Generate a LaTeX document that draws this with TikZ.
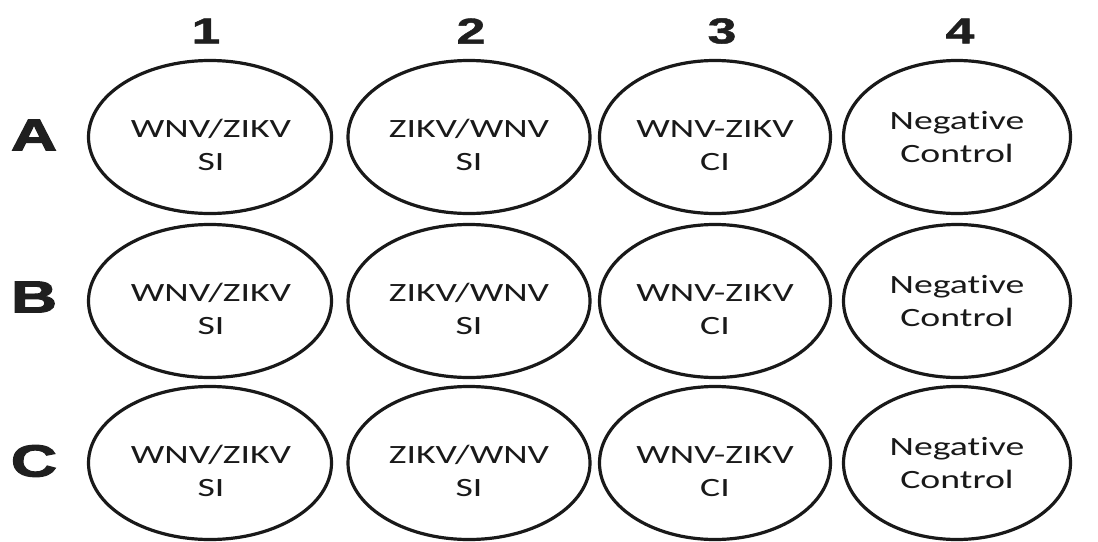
\documentclass[tikz,border=0pt]{standalone}
\usepackage{fontspec}
\usepackage{graphicx}
\setmainfont{Carlito}[Ligatures={NoCommon,NoRare}]
\newfontfamily\headfont{Liberation Sans Bold}[FakeBold=1.2]
\newfontfamily\letterfont{Liberation Sans Bold}[FakeBold=2.2]
\usetikzlibrary{shapes.geometric,calc}
% horizontally widened text block
\newcommand{\widetext}[1]{\scalebox{1.43}[1]{\begin{tabular}{@{}c@{}}#1\end{tabular}}}
\tikzset{
  well/.style={ellipse, draw=black!90, line width=3.2pt, inner sep=0pt},
  welltext/.style={inner sep=0pt, font=\fontsize{26.4}{33}\selectfont, text=black!90},
  colhead/.style={inner sep=0pt, font=\headfont\fontsize{36}{36}\selectfont, text=black!88},
  rowhead/.style={inner sep=0pt, font=\letterfont\fontsize{45}{45}\selectfont, text=black!88}
}
\begin{document}
\begin{tikzpicture}[x=1pt,y=-1pt]
\useasboundingbox (0,0) rectangle (1098,541);

% column numbers
\node[colhead] (c1) at (206,31) {\scalebox{1.43}[1]{1}};
\node[colhead] (c2) at (471,31) {\scalebox{1.43}[1]{2}};
\node[colhead] (c3) at (722,31) {\scalebox{1.43}[1]{3}};
\node[colhead] (c4) at (960,31) {\scalebox{1.43}[1]{4}};

% row letters
\node[rowhead] (rA) at (34,135) {\scalebox{1.42}[1]{A}};
\node[rowhead] (rB) at (34,297) {\scalebox{1.42}[1]{B}};
\node[rowhead] (rC) at (34,461) {\scalebox{1.42}[1]{C}};

% wells
\foreach \r/\y in {A/137,B/301,C/463}{
  \node[well, minimum width=243, minimum height=153] (\r1) at (210,\y) {};
  \node[well, minimum width=242, minimum height=153] (\r2) at (469,\y) {};
  \node[well, minimum width=231, minimum height=153] (\r3) at (715,\y) {};
  \node[well, minimum width=227, minimum height=153] (\r4) at (957,\y) {};
  \node[welltext] (\r1t) at ($(\r1.center)+(1,10)$) {\widetext{WNV/ZIKV\\SI}};
  \node[welltext] (\r2t) at ($(\r2.center)+(0,10)$) {\widetext{ZIKV/WNV\\SI}};
  \node[welltext] (\r3t) at ($(\r3.center)+(0,10)$) {\widetext{WNV-ZIKV\\CI}};
  \node[welltext] (\r4t) at ($(\r4.center)+(0,2)$) {\widetext{Negative\\Control}};
}
\end{tikzpicture}
\end{document}
